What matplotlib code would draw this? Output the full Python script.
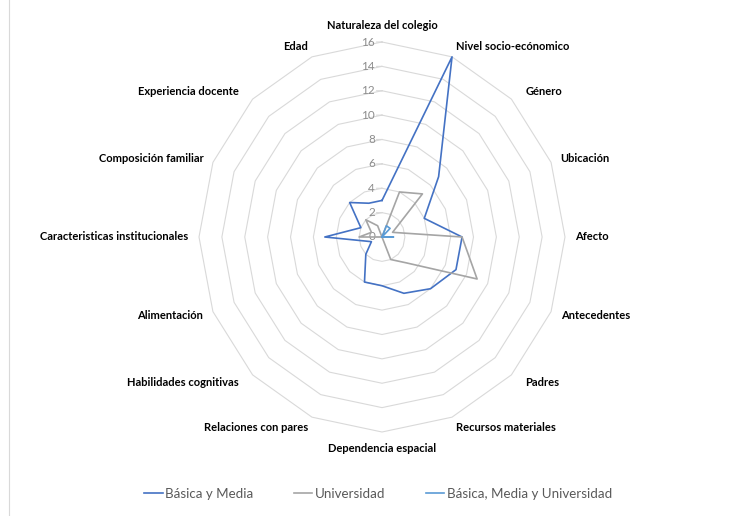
import numpy as np
import matplotlib.pyplot as plt
from matplotlib.lines import Line2D

plt.rcParams['font.family'] = ['Lato', 'DejaVu Sans']

# categories, clockwise from the top
categorias = ["Naturaleza del colegio", "Nivel socio-ecónomico", "Género", "Ubicación",
              "Afecto", "Antecedentes", "Padres", "Recursos materiales",
              "Dependencia espacial", "Relaciones con pares", "Habilidades cognitivas",
              "Alimentación", "Caracteristicas institucionales", "Composición familiar",
              "Experiencia docente", "Edad"]

basica_media = [3, 16, 7, 4, 7, 7, 6, 5, 4, 4, 2, 1, 5, 2, 4, 3]
universidad = [0, 4, 5, 1, 7, 9, 3, 2, 0, 0, 0, 0, 2, 1, 2, 1]
basica_media_univ = [0, 1, 1, 0, 1, 0, 0, 0, 0, 0, 0, 0, 0, 0, 0, 0]

ticks = [0, 2, 4, 6, 8, 10, 12, 14, 16]

series = [("Básica y Media", basica_media, "#4472C4"),
          ("Universidad", universidad, "#A5A5A5"),
          ("Básica, Media y Universidad", basica_media_univ, "#5B9BD5")]

n = len(categorias)
ang = np.linspace(0, 2 * np.pi, n, endpoint=False)
ang_c = np.append(ang, ang[0])

fig = plt.figure(figsize=(7.3, 5.16), dpi=100)
ax = fig.add_axes([199 / 730, 84 / 516, 366 / 730, 390 / 516], projection='polar')
ax.set_aspect('auto')
ax.set_theta_zero_location('N')
ax.set_theta_direction(-1)
ax.set_ylim(0, 16)
ax.grid(False)
ax.spines['polar'].set_visible(False)
ax.set_xticks([])
ax.set_yticks([])
ax.patch.set_alpha(0)

# polygon grid
for r in ticks[1:]:
    ax.plot(ang_c, [r] * (n + 1), color="#D9D9D9", lw=0.8, clip_on=False, zorder=1)

# value labels on the top axis
for r in ticks:
    ax.annotate(str(r), (0, r), xytext=(-5, 0), textcoords='offset points',
                ha='right', va='center', fontsize=8.5, color="#8C8C8C",
                annotation_clip=False)
    ax.annotate("", (0, r), xytext=(-4, 0), textcoords='offset points',
                annotation_clip=False,
                arrowprops=dict(arrowstyle='-', color="#D9D9D9", lw=0.8,
                                shrinkA=0, shrinkB=0))

for nombre, vals, col in series:
    ax.plot(ang_c, vals + vals[:1], color=col, lw=1.2, clip_on=False, zorder=3)

# category labels
for a, lab in zip(ang, categorias):
    s, c = np.sin(a), np.cos(a)
    if abs(s) < 0.01:
        ha = 'center'
        va = 'bottom' if c > 0 else 'top'
        dx = 0
    else:
        ha = 'left' if s > 0 else 'right'
        va = 'center'
        dx = 5 * np.sign(s) if abs(abs(s) - 0.707) < 0.01 else 0
    ax.annotate(lab, (a, 16.9), xytext=(dx, 0), textcoords='offset points',
                ha=ha, va=va, fontsize=8, fontweight='bold', color="black",
                annotation_clip=False)

handles = [Line2D([], [], color=col, lw=1.2) for _, _, col in series]
fig.legend(handles, [s[0] for s in series], loc='center', bbox_to_anchor=(0.518, 0.043),
           ncol=3, frameon=False, fontsize=9.6, handlelength=1.4, handletextpad=0.2,
           columnspacing=3.0, labelcolor="#595959")

fig.add_artist(Line2D([9 / 730, 9 / 730], [0, 1], color="#D9D9D9", lw=0.8))

fig.savefig("out.png", dpi=100)
